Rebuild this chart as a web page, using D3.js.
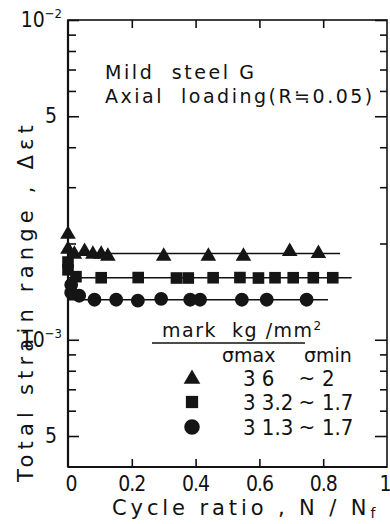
<!DOCTYPE html>
<html lang="en">
<head>
<meta charset="UTF-8">
<title>Mild steel G - strain range vs cycle ratio</title>
<script src="https://d3js.org/d3.v7.min.js"></script>
<style>
    body { margin: 0; background: #fff; }
    svg text { font-family: "DejaVu Sans", Arial, sans-serif; fill: #111; white-space: pre; }
    svg text.narrow { font-family: "DejaVu Sans Condensed", "Liberation Sans Narrow", "DejaVu Sans", sans-serif; }
</style>
</head>
<body>
<div id="chart"></div>
<script>
    // Data: cycle ratio N/Nf and total strain range
    const triN   = [0, 0, 0.02, 0.052, 0.078, 0.104, 0.125, 0.30, 0.44, 0.55, 0.695, 0.785];
    const triEps = [2.16e-3, 1.94e-3, 1.87e-3, 1.91e-3, 1.87e-3, 1.87e-3, 1.845e-3, 1.845e-3, 1.845e-3, 1.845e-3, 1.91e-3, 1.88e-3];

    const sqN   = [0, 0, 0.025, 0.104, 0.22, 0.34, 0.377, 0.455, 0.539, 0.597, 0.649, 0.706, 0.769, 0.83];
    const sqEps = [1.75e-3, 1.655e-3, 1.575e-3, 1.563e-3, 1.565e-3, 1.56e-3, 1.56e-3, 1.563e-3, 1.565e-3, 1.56e-3, 1.563e-3, 1.563e-3, 1.563e-3, 1.563e-3];

    const ciN   = [0.01, 0.01, 0.035, 0.083, 0.151, 0.219, 0.292, 0.383, 0.414, 0.545, 0.623, 0.748];
    const ciEps = [1.485e-3, 1.403e-3, 1.373e-3, 1.334e-3, 1.334e-3, 1.325e-3, 1.343e-3, 1.334e-3, 1.334e-3, 1.334e-3, 1.334e-3, 1.334e-3];

    // mean level lines drawn through each series, and where they stop
    const levelEps = [1.86e-3, 1.562e-3, 1.334e-3];
    const levelEnd = [0.853, 0.889, 0.815];

    // legend
    const sigmaMax = ["3 6", "3 3.2", "3 1.3"];
    const sigmaMin = ["2", "1.7", "1.7"];

    // ticks
    const xTicks = [0, 0.2, 0.4, 0.6, 0.8, 1];
    const yMajor = [5e-4, 1e-3, 5e-3, 1e-2];
    const yMinor = [6e-4, 7e-4, 8e-4, 9e-4, 2e-3, 3e-3, 4e-3, 6e-3, 7e-3, 8e-3, 9e-3];

    const W = 390, H = 524;
    const pLeft = 68, pRight = 387, pTop = 20, pBottom = 467;

    const svg = d3.select("#chart").append("svg")
        .attr("width", W)
        .attr("height", H);

    const x = d3.scaleLinear().domain([0, 1]).range([pLeft, pRight]);
    const y = d3.scaleLog().domain([4e-4, 1e-2]).range([pBottom, pTop]);

    // frame
    svg.append("rect")
        .attr("x", pLeft).attr("y", pTop)
        .attr("width", pRight - pLeft).attr("height", pBottom - pTop)
        .attr("fill", "none").attr("stroke", "#111").attr("stroke-width", 1.6);
    svg.append("line")
        .attr("x1", pLeft).attr("x2", pLeft).attr("y1", pTop).attr("y2", pBottom)
        .attr("stroke", "#111").attr("stroke-width", 2.2);
    svg.append("line")
        .attr("x1", pLeft).attr("x2", pRight).attr("y1", pBottom).attr("y2", pBottom)
        .attr("stroke", "#111").attr("stroke-width", 2.2);

    function styleAxis(g) {
        g.select(".domain").remove();
        g.selectAll(".tick line").attr("stroke", "#111").attr("stroke-width", 1.6);
    }

    // inward ticks on all four sides
    svg.append("g").attr("transform", `translate(${pLeft},0)`)
        .call(d3.axisLeft(y).tickValues(yMinor).tickSize(-8).tickFormat(""))
        .call(styleAxis);
    svg.append("g").attr("transform", `translate(${pLeft},0)`)
        .call(d3.axisLeft(y).tickValues(yMajor).tickSize(-11).tickFormat(""))
        .call(styleAxis);
    svg.append("g").attr("transform", `translate(${pRight},0)`)
        .call(d3.axisRight(y).tickValues(yMinor).tickSize(-7).tickFormat(""))
        .call(styleAxis);
    svg.append("g").attr("transform", `translate(${pRight},0)`)
        .call(d3.axisRight(y).tickValues(yMajor).tickSize(-12).tickFormat(""))
        .call(styleAxis);
    svg.append("g").attr("transform", `translate(0,${pBottom})`)
        .call(d3.axisBottom(x).tickValues(xTicks.slice(1, -1)).tickSize(-8).tickFormat(""))
        .call(styleAxis);
    svg.append("g").attr("transform", `translate(0,${pTop})`)
        .call(d3.axisTop(x).tickValues(xTicks.slice(1, -1)).tickSize(-8).tickFormat(""))
        .call(styleAxis);

    // x tick labels
    svg.selectAll(".xlab").data(xTicks).enter().append("text")
        .attr("class", "xlab narrow")
        .attr("x", d => x(d) + (d === 0 ? 3 : d === 1 ? -2 : 0))
        .attr("y", 491)
        .attr("text-anchor", "middle")
        .style("font-size", "21px")
        .style("letter-spacing", "-1px")
        .text(d => d === 0 || d === 1 ? d3.format("d")(d) : d3.format(".1f")(d));

    // y tick labels
    svg.selectAll(".ylab").data(yMajor).enter().append("text")
        .attr("class", "ylab narrow")
        .attr("x", d => (d === 1e-2 || d === 1e-3) ? 62 : 57)
        .attr("y", d => y(d) + 7)
        .attr("text-anchor", "end")
        .style("font-size", "21px")
        .each(function(d) {
            const t = d3.select(this);
            const e = Math.round(Math.log10(d));
            if (Math.abs(Math.log10(d) - e) < 1e-9) {
                t.append("tspan").text("10");
                t.append("tspan").attr("dy", -9).style("font-size", "13px").text("−" + (-e));
            } else {
                t.text(d3.format("d")(d / Math.pow(10, Math.floor(Math.log10(d)))));
            }
        });

    // mean level lines
    const line = d3.line().x(d => x(d[0])).y(d => y(d[1]));
    levelEps.forEach((v, i) => {
        svg.append("path")
            .attr("d", line([[0, v], [levelEnd[i], v]]))
            .attr("fill", "none").attr("stroke", "#111").attr("stroke-width", 1.5);
    });

    // markers
    const series = [
        { n: triN, e: triEps, type: d3.symbolTriangle, size: 105, dy: 1.5 },
        { n: sqN,  e: sqEps,  type: d3.symbolSquare,   size: 135, dy: 0 },
        { n: ciN,  e: ciEps,  type: d3.symbolCircle,   size: 150, dy: 0 }
    ];
    series.forEach(s => {
        svg.selectAll(null).data(d3.range(s.n.length)).enter().append("path")
            .attr("d", d3.symbol().type(s.type).size(s.size)())
            .attr("transform", i => `translate(${x(s.n[i])},${y(s.e[i]) + s.dy})`)
            .attr("fill", "#151515");
    });

    // annotation
    svg.append("text").attr("x", 105).attr("y", 79)
        .style("font-size", "19px").style("letter-spacing", "2.6px")
        .text("Mild  steel G");
    svg.append("text").attr("x", 105).attr("y", 103)
        .style("font-size", "19px").style("letter-spacing", "2.5px")
        .text("Axial  loading(R≒0.05)");

    // legend
    svg.append("text").attr("x", 162).attr("y", 337)
        .style("font-size", "19px").style("letter-spacing", "1.5px")
        .text("mark  kg /mm")
        .append("tspan").attr("dy", -7).style("font-size", "12px").text("2");
    svg.append("line")
        .attr("x1", 152).attr("x2", 305).attr("y1", 343).attr("y2", 343)
        .attr("stroke", "#111").attr("stroke-width", 1.4);
    svg.append("text").attr("x", 222).attr("y", 362)
        .style("font-size", "19px").text("σmax");
    svg.append("text").attr("x", 304).attr("y", 362)
        .style("font-size", "19px").text("σmin");

    const legendY = [378, 402, 427];
    series.forEach((s, i) => {
        svg.append("path")
            .attr("d", d3.symbol().type(s.type).size(s.size + (i === 2 ? 40 : 15))())
            .attr("transform", `translate(192,${legendY[i] + (i === 0 ? 1 : 0)})`)
            .attr("fill", "#151515");
        svg.append("text").attr("class", "narrow").attr("x", 243).attr("y", legendY[i] + 8)
            .style("font-size", "22px")
            .text(sigmaMax[i]);
        svg.append("text").attr("x", 307).attr("y", legendY[i] + 7)
            .attr("text-anchor", "middle")
            .style("font-size", "20px").text("~");
        svg.append("text").attr("class", "narrow").attr("x", 322).attr("y", legendY[i] + 8)
            .style("font-size", "22px")
            .text(sigmaMin[i]);
    });

    // axis titles
    const xt = svg.append("text").attr("x", 112).attr("y", 515)
        .style("font-size", "21px").style("letter-spacing", "3.9px")
        .text("Cycle ratio , N / N");
    xt.append("tspan").attr("dy", 3).style("font-size", "14px").text("f");

    const yt = svg.append("text")
        .attr("transform", "translate(33,482) rotate(-90)")
        .style("font-size", "21px").style("letter-spacing", "5.2px")
        .text("Total strain range , Δε");
    yt.append("tspan").text("t");
</script>
</body>
</html>
